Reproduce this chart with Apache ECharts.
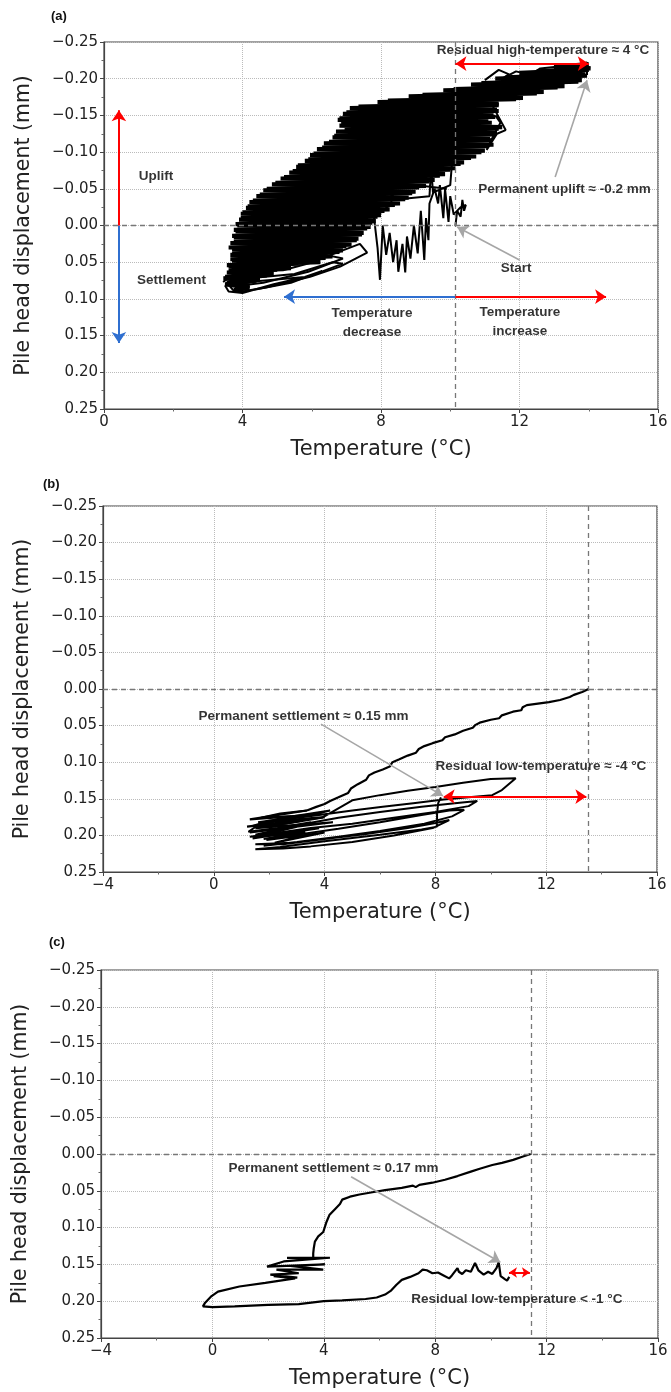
<!DOCTYPE html>
<html>
<head>
<meta charset="utf-8">
<script src="https://cdn.jsdelivr.net/npm/echarts@6/dist/echarts.min.js"></script>
<style>
  body { margin: 0; background: #fff; }
  #main { width: 671px; height: 1392px; }
</style>
</head>
<body>
<div id="main"></div>
<script>
// axis ranges (temperature in °C, pile head displacement in mm)
const panelTags = ['(a)', '(b)', '(c)'];
const tempMin = [0, -4, -4];
const tempMax = 16;
const tempStep = 4;
const dispMin = -0.25;
const dispMax = 0.25;
const dispStep = 0.05;
const startTemp = [10.15, 13.5, 11.45];

// (a) long-term cycles: dense scribble
const massPass1 = [[3.75,0.088],[4.2,0.085],[3.5,0.080],[4.4,0.075],[3.45,0.072],[4.7,0.068],[3.55,0.064],[5.0,0.060],[3.6,0.056],[5.6,0.052],[3.7,0.048],[6.4,0.044],[3.65,0.040],[6.8,0.036],[3.7,0.032],[7.0,0.028],[3.65,0.024],[7.3,0.020],[3.75,0.016],[7.45,0.012],[3.8,0.008],[7.6,0.004],[3.85,0.000],[7.75,-0.004],[3.9,-0.008],[7.9,-0.012],[3.95,-0.016],[8.1,-0.020],[4.1,-0.024],[8.4,-0.028],[4.2,-0.032],[8.7,-0.036],[4.4,-0.040],[8.9,-0.044],[4.6,-0.048],[9.1,-0.052],[4.85,-0.056],[9.4,-0.060],[5.1,-0.064],[9.7,-0.068],[5.35,-0.072],[10.0,-0.076],[5.55,-0.080],[10.3,-0.084],[5.8,-0.088],[10.6,-0.092],[5.95,-0.096],[10.9,-0.100],[6.15,-0.104],[11.1,-0.108],[6.35,-0.112],[11.2,-0.116],[6.6,-0.120],[11.3,-0.124],[6.7,-0.128],[11.4,-0.132],[6.8,-0.136],[11.2,-0.140],[6.75,-0.144],[11.3,-0.148],[6.9,-0.152],[11.4,-0.156],[7.1,-0.160],[11.4,-0.164],[7.9,-0.168],[11.9,-0.172],[8.8,-0.176],[12.5,-0.180],[9.8,-0.184],[13.1,-0.188],[10.6,-0.192],[13.7,-0.196],[11.3,-0.200],[13.95,-0.204],[12.0,-0.208],[14.0,-0.212],[13.0,-0.216],[14.0,-0.220]];
const massPass2 = [[13.5,-0.218],[14.05,-0.214],[12.5,-0.210],[13.9,-0.206],[11.6,-0.202],[13.8,-0.198],[10.9,-0.194],[13.3,-0.190],[10.1,-0.186],[12.7,-0.182],[9.2,-0.178],[12.1,-0.174],[8.2,-0.170],[11.4,-0.166],[7.35,-0.162],[11.35,-0.158],[7.0,-0.154],[11.25,-0.150],[6.8,-0.146],[11.1,-0.142],[6.85,-0.138],[11.5,-0.134],[6.95,-0.130],[11.35,-0.126],[6.65,-0.122],[11.15,-0.118],[6.5,-0.114],[11.25,-0.110],[6.3,-0.106],[11.0,-0.102],[6.05,-0.098],[10.75,-0.094],[5.9,-0.090],[10.4,-0.086],[5.6,-0.082],[10.15,-0.078],[5.45,-0.074],[9.85,-0.070],[5.2,-0.066],[9.55,-0.062],[4.95,-0.058],[9.3,-0.054],[4.7,-0.050],[9.0,-0.046],[4.5,-0.042],[8.8,-0.038],[4.3,-0.034],[8.55,-0.030],[4.15,-0.026],[8.25,-0.022],[4.0,-0.018],[8.0,-0.014],[3.95,-0.010],[7.85,-0.006],[3.8,-0.002],[7.7,0.002],[3.75,0.006],[7.5,0.010],[3.7,0.014],[7.35,0.018],[3.75,0.022],[7.15,0.026],[3.6,0.030],[6.9,0.034],[3.7,0.038],[6.6,0.042],[3.65,0.046],[6.25,0.050],[3.55,0.054],[5.4,0.058],[3.6,0.062],[4.9,0.066],[3.5,0.070],[4.5,0.074],[3.55,0.078],[4.2,0.082],[3.8,0.086],[4.0,0.090]];
const spikesA = [[10.15,0.0],[10.2,-0.02],[10.3,-0.012],[10.35,-0.035],[10.4,-0.02],[10.45,-0.028],[10.3,-0.025],[10.1,-0.015],[10.0,-0.04],[9.95,-0.005],[9.85,-0.05],[9.8,-0.01],[9.7,-0.055],[9.65,-0.03],[9.55,-0.05],[9.4,-0.03],[9.37,0.02],[9.3,-0.01],[9.25,0.047],[9.15,-0.02],[9.06,0.038],[8.95,0.0],[8.85,0.045],[8.75,0.015],[8.7,0.064],[8.62,0.025],[8.5,0.063],[8.45,0.02],[8.35,0.05],[8.25,0.01],[8.15,0.04],[8.05,0.0],[7.97,0.074],[7.9,0.03],[7.8,-0.01],[8.3,-0.03],[8.3,-0.072],[8.35,-0.035],[9.4,-0.04],[9.45,-0.08],[9.5,-0.045],[10.0,-0.055],[10.05,-0.085],[7.2,-0.055],[8.5,-0.058],[9.9,-0.05]];
const excursionA = [[11.2,-0.165],[11.6,-0.13],[11.35,-0.125],[11.05,-0.103],[11.2,-0.118],[11.45,-0.14],[11.3,-0.15]];
const loopsA = [[3.44,0.077],[3.84,0.063],[5.17,0.061],[5.95,0.051],[7.39,0.025],[7.6,0.037],[6.82,0.056],[5.95,0.07],[4.7,0.084],[4.0,0.09],[3.73,0.088],[3.55,0.078],[4.0,0.07],[5.0,0.058],[6.4,0.04],[6.9,0.045],[5.9,0.063],[4.6,0.078],[3.9,0.082]];
const loopsA2 = [[3.5,0.08],[4.2,0.072],[5.5,0.066],[6.6,0.05],[6.9,0.052],[6.0,0.068],[4.9,0.08],[4.0,0.092],[3.6,0.09],[3.5,0.082],[4.4,0.076],[5.8,0.07],[6.3,0.062],[5.4,0.078],[4.3,0.088]];
const armA = [[11.0,-0.198],[11.4,-0.212],[11.7,-0.206],[11.5,-0.2],[11.9,-0.21],[12.3,-0.205],[12.6,-0.214],[13.0,-0.216],[13.5,-0.218],[13.95,-0.222],[13.95,-0.205]];

// (b) second test
const descentB = [[13.53,0.0],[13.3,0.004],[13.0,0.008],[12.85,0.011],[12.5,0.015],[12.1,0.018],[11.7,0.02],[11.3,0.022],[11.15,0.025],[11.1,0.029],[10.8,0.031],[10.4,0.036],[10.3,0.04],[10.0,0.042],[9.6,0.046],[9.45,0.049],[9.35,0.053],[9.0,0.057],[8.7,0.062],[8.35,0.066],[8.25,0.07],[7.9,0.074],[7.6,0.078],[7.4,0.082],[7.3,0.087],[7.0,0.091],[6.7,0.096],[6.45,0.1],[6.35,0.106],[6.1,0.11],[5.8,0.114],[5.6,0.118],[5.5,0.124],[5.2,0.13],[4.95,0.136],[4.85,0.142],[4.5,0.148],[4.2,0.153],[4.0,0.157],[3.7,0.161],[3.36,0.166]];
const clusterB = [[3.36,0.166],[1.3,0.178],[3.5,0.172],[1.6,0.182],[4.0,0.175],[1.2,0.188],[3.2,0.18],[1.5,0.19],[4.3,0.182],[1.3,0.196],[3.0,0.188],[1.7,0.2],[3.8,0.19],[1.4,0.204],[2.8,0.196],[1.9,0.206],[4.0,0.196],[2.2,0.21],[3.3,0.2]];
const cyclesB = [[3.36,0.166],[2.4,0.17],[1.7,0.176],[2.8,0.174],[4.2,0.166],[3.2,0.175],[2.0,0.18],[1.4,0.187],[2.6,0.184],[3.9,0.176],[5.0,0.152],[6.0,0.145],[7.0,0.139],[8.0,0.134],[9.0,0.128],[10.0,0.123],[10.9,0.122],[10.4,0.138],[10.05,0.145],[9.2,0.148],[8.3,0.151],[7.2,0.156],[6.1,0.161],[5.0,0.166],[3.8,0.172],[2.6,0.178],[1.6,0.186],[1.25,0.195],[2.3,0.19],[3.5,0.182],[2.2,0.194],[1.5,0.199],[3.0,0.186],[4.5,0.176],[6.0,0.168],[7.5,0.161],[8.7,0.156],[9.51,0.153],[9.2,0.16],[8.0,0.168],[6.5,0.176],[5.0,0.184],[3.5,0.19],[2.2,0.197],[1.3,0.202],[2.0,0.2],[3.3,0.195],[1.8,0.205],[3.0,0.199],[4.5,0.191],[6.0,0.182],[7.5,0.172],[8.5,0.166],[9.04,0.165],[8.6,0.174],[7.6,0.184],[6.0,0.194],[4.5,0.202],[3.0,0.209],[1.8,0.214],[2.8,0.21],[1.5,0.212],[2.5,0.212],[4.0,0.205],[5.5,0.198],[7.0,0.19],[8.0,0.183],[8.5,0.179],[7.9,0.19],[6.5,0.2],[5.0,0.209],[3.5,0.215],[2.5,0.218],[1.5,0.219],[2.4,0.216],[4.0,0.208],[6.0,0.199],[7.5,0.192],[8.06,0.188],[8.06,0.17],[8.1,0.156],[8.2,0.148]];

// (c) third test
const pathC = [[11.43,0.0],[11.1,0.004],[10.8,0.008],[10.4,0.012],[10.05,0.015],[9.6,0.02],[9.28,0.024],[8.8,0.03],[8.35,0.035],[7.9,0.039],[7.43,0.042],[7.3,0.045],[7.2,0.043],[6.8,0.046],[6.2,0.049],[5.9,0.051],[5.28,0.055],[4.94,0.058],[4.66,0.062],[4.58,0.068],[4.4,0.075],[4.2,0.083],[4.1,0.092],[3.98,0.106],[3.8,0.112],[3.68,0.119],[3.64,0.128],[3.62,0.135],[3.62,0.142],[2.68,0.141],[4.22,0.141],[2.56,0.146],[1.96,0.153],[4.04,0.15],[2.8,0.152],[3.98,0.157],[2.3,0.157],[3.1,0.162],[2.08,0.164],[3.05,0.168],[2.2,0.166],[2.97,0.169],[1.9,0.175],[0.97,0.18],[0.2,0.187],[-0.03,0.193],[-0.26,0.202],[-0.34,0.207],[0.0,0.208],[0.8,0.207],[2.0,0.205],[3.1,0.204],[4.0,0.2],[4.66,0.199],[5.5,0.197],[5.9,0.195],[6.2,0.191],[6.4,0.186],[6.6,0.178],[6.8,0.171],[7.1,0.167],[7.4,0.162],[7.55,0.157],[7.7,0.158],[7.9,0.162],[8.1,0.161],[8.3,0.165],[8.5,0.169],[8.6,0.165],[8.8,0.155],[8.85,0.16],[8.97,0.163],[9.1,0.158],[9.28,0.16],[9.43,0.148],[9.55,0.158],[9.74,0.164],[9.9,0.16],[10.05,0.163],[10.2,0.155],[10.28,0.147],[10.35,0.166],[10.5,0.17],[10.58,0.172],[10.66,0.167]];

// annotation arrows, in data units: [from, to]
const redArrows = [
  [[[10.15,-0.2205],[14.0,-0.2205]], [[0.43,0.0],[0.43,-0.157]], [[10.15,0.097],[14.5,0.097]]],
  [[[8.3,0.147],[13.45,0.147]]],
  [[[10.65,0.161],[11.4,0.161]]]
];
const redBoth = [[true, false, false], [true], [true]];
const blueArrows = [[[0.43,0.0],[0.43,0.16]], [[10.15,0.097],[5.2,0.097]]];
const grayArrows = [
  [[[12.0,0.047],[10.2,0.002]], [[13.03,-0.066],[13.95,-0.198]]],
  [[[3.87,0.048],[8.27,0.146]]],
  [[[4.98,0.031],[10.34,0.147]]]
];

// notes: [text, temperature, displacement] (text centre)
const notes = [
  [['Residual high-temperature ≈ 4 °C', 12.68, -0.239], ['Uplift', 1.5, -0.067], ['Settlement', 1.95, 0.074],
   ['Temperature\ndecrease', 7.74, 0.133], ['Temperature\nincrease', 12.01, 0.131], ['Start', 11.9, 0.058],
   ['Permanent uplift ≈ -0.2 mm', 13.3, -0.05]],
  [['Permanent settlement ≈ 0.15 mm', 3.24, 0.037], ['Residual low-temperature ≈ -4 °C', 11.81, 0.106]],
  [['Permanent settlement ≈ 0.17 mm', 4.35, 0.019], ['Residual low-temperature < -1 °C', 10.93, 0.198]]
];

const grids = [
  { left: 104, top: 42, width: 554, height: 367 },
  { left: 103, top: 506, width: 554, height: 366 },
  { left: 101, top: 970, width: 557, height: 368 }
];
const tagPos = [[51, 10], [43, 478], [49, 936]];
const redSize = [11, 11, 8];

const tickFont = 'DejaVu Sans';
const noteFont = 'Liberation Sans';

function minusFmt(v, d) {
  const s = Math.abs(v).toFixed(d);
  return (v < 0 && Number(s) !== 0 ? '\u2212' : '') + s;
}

const xAxes = grids.map((g, i) => ({
  type: 'value', gridIndex: i, min: tempMin[i], max: tempMax, interval: tempStep,
  name: 'Temperature (°C)', nameLocation: 'middle', nameGap: 30,
  nameTextStyle: { fontFamily: tickFont, fontSize: 21, color: '#222' },
  axisLine: { onZero: false, lineStyle: { color: '#444', width: 1.2 } },
  axisTick: { show: true, length: 4, lineStyle: { color: '#444' } },
  minorTick: { show: true, splitNumber: 2, length: 2.5, lineStyle: { color: '#666' } },
  axisLabel: { fontFamily: tickFont, fontSize: 15, color: '#222', margin: 6, formatter: v => minusFmt(v, 0) },
  splitLine: { show: true, lineStyle: { type: 'dotted', color: '#bbb', width: 1 } }
}));

const yAxes = grids.map((g, i) => ({
  type: 'value', gridIndex: i, inverse: true, min: dispMin, max: dispMax, interval: dispStep,
  name: 'Pile head displacement (mm)', nameLocation: 'middle', nameGap: 70, nameRotate: 90,
  nameTextStyle: { fontFamily: tickFont, fontSize: 20.5, color: '#222' },
  axisLine: { onZero: false, lineStyle: { color: '#444', width: 1.2 } },
  axisTick: { show: true, length: 4, lineStyle: { color: '#444' } },
  minorTick: { show: true, splitNumber: 2, length: 2.5, lineStyle: { color: '#666' } },
  axisLabel: { fontFamily: tickFont, fontSize: 15, color: '#222', margin: 6, formatter: v => minusFmt(v, 2) },
  splitLine: { show: true, lineStyle: { type: 'dotted', color: '#bbb', width: 1 } }
}));

function trace(data, i, width) {
  return {
    type: 'line', xAxisIndex: i, yAxisIndex: i, data: data,
    showSymbol: false, symbol: 'none', silent: true, z: 3,
    lineStyle: { color: '#000', width: width }
  };
}

function arrows(list, i, color, both, width, size) {
  return {
    type: 'lines', coordinateSystem: 'cartesian2d', xAxisIndex: i, yAxisIndex: i,
    silent: true, z: 6,
    data: list.map((c, k) => ({
      coords: c,
      symbol: both && both[k] ? ['arrow', 'arrow'] : ['none', 'arrow']
    })),
    symbolSize: size,
    lineStyle: { color: color, width: width, opacity: 1, curveness: 0 }
  };
}

function texts(list, i) {
  return {
    type: 'scatter', xAxisIndex: i, yAxisIndex: i, symbolSize: 1, silent: true, z: 8,
    itemStyle: { color: 'rgba(0,0,0,0)' },
    data: list.map(n => ({ name: n[0], value: [n[1], n[2]] })),
    label: {
      show: true, position: 'inside', formatter: '{b}',
      fontFamily: noteFont, fontWeight: 'bold', fontSize: 13.5, color: '#000', lineHeight: 19
    }
  };
}

function refLines(i) {
  return {
    type: 'line', xAxisIndex: i, yAxisIndex: i, data: [], silent: true,
    markLine: {
      silent: true, symbol: 'none', label: { show: false },
      lineStyle: { color: '#777', type: [5, 4], width: 1.3 },
      data: [{ yAxis: 0 }, { xAxis: startTemp[i] }]
    }
  };
}

const series = [
  refLines(0), refLines(1), refLines(2),
  trace(massPass1, 0, 4.2), trace(massPass2, 0, 4.2),
  trace(spikesA, 0, 2), trace(excursionA, 0, 2), trace(loopsA, 0, 2), trace(loopsA2, 0, 2), trace(armA, 0, 2),
  trace(descentB, 1, 2.2), trace(clusterB, 1, 2.2), trace(cyclesB, 1, 2),
  trace(pathC, 2, 2.2),
  arrows(blueArrows, 0, '#2f6fd0', null, 2, 11)
];
for (let i = 0; i < 3; i++) {
  series.push(arrows(redArrows[i], i, '#ff0000', redBoth[i], 2, redSize[i]));
  series.push(arrows(grayArrows[i], i, '#a6a6a6', null, 1.6, 11));
  series.push(texts(notes[i], i));
}

const chart = echarts.init(document.getElementById('main'), null, { renderer: 'canvas' });
chart.setOption({
  animation: false,
  backgroundColor: '#fff',
  grid: grids.map(g => Object.assign({ show: true, borderColor: '#444', borderWidth: 1.2, containLabel: false }, g)),
  xAxis: xAxes,
  yAxis: yAxes,
  graphic: panelTags.map((t, i) => ({
    type: 'text', left: tagPos[i][0], top: tagPos[i][1],
    style: { text: t, font: 'bold 13px "Liberation Sans"', fill: '#111' }
  })),
  series: series
});
</script>
</body>
</html>
